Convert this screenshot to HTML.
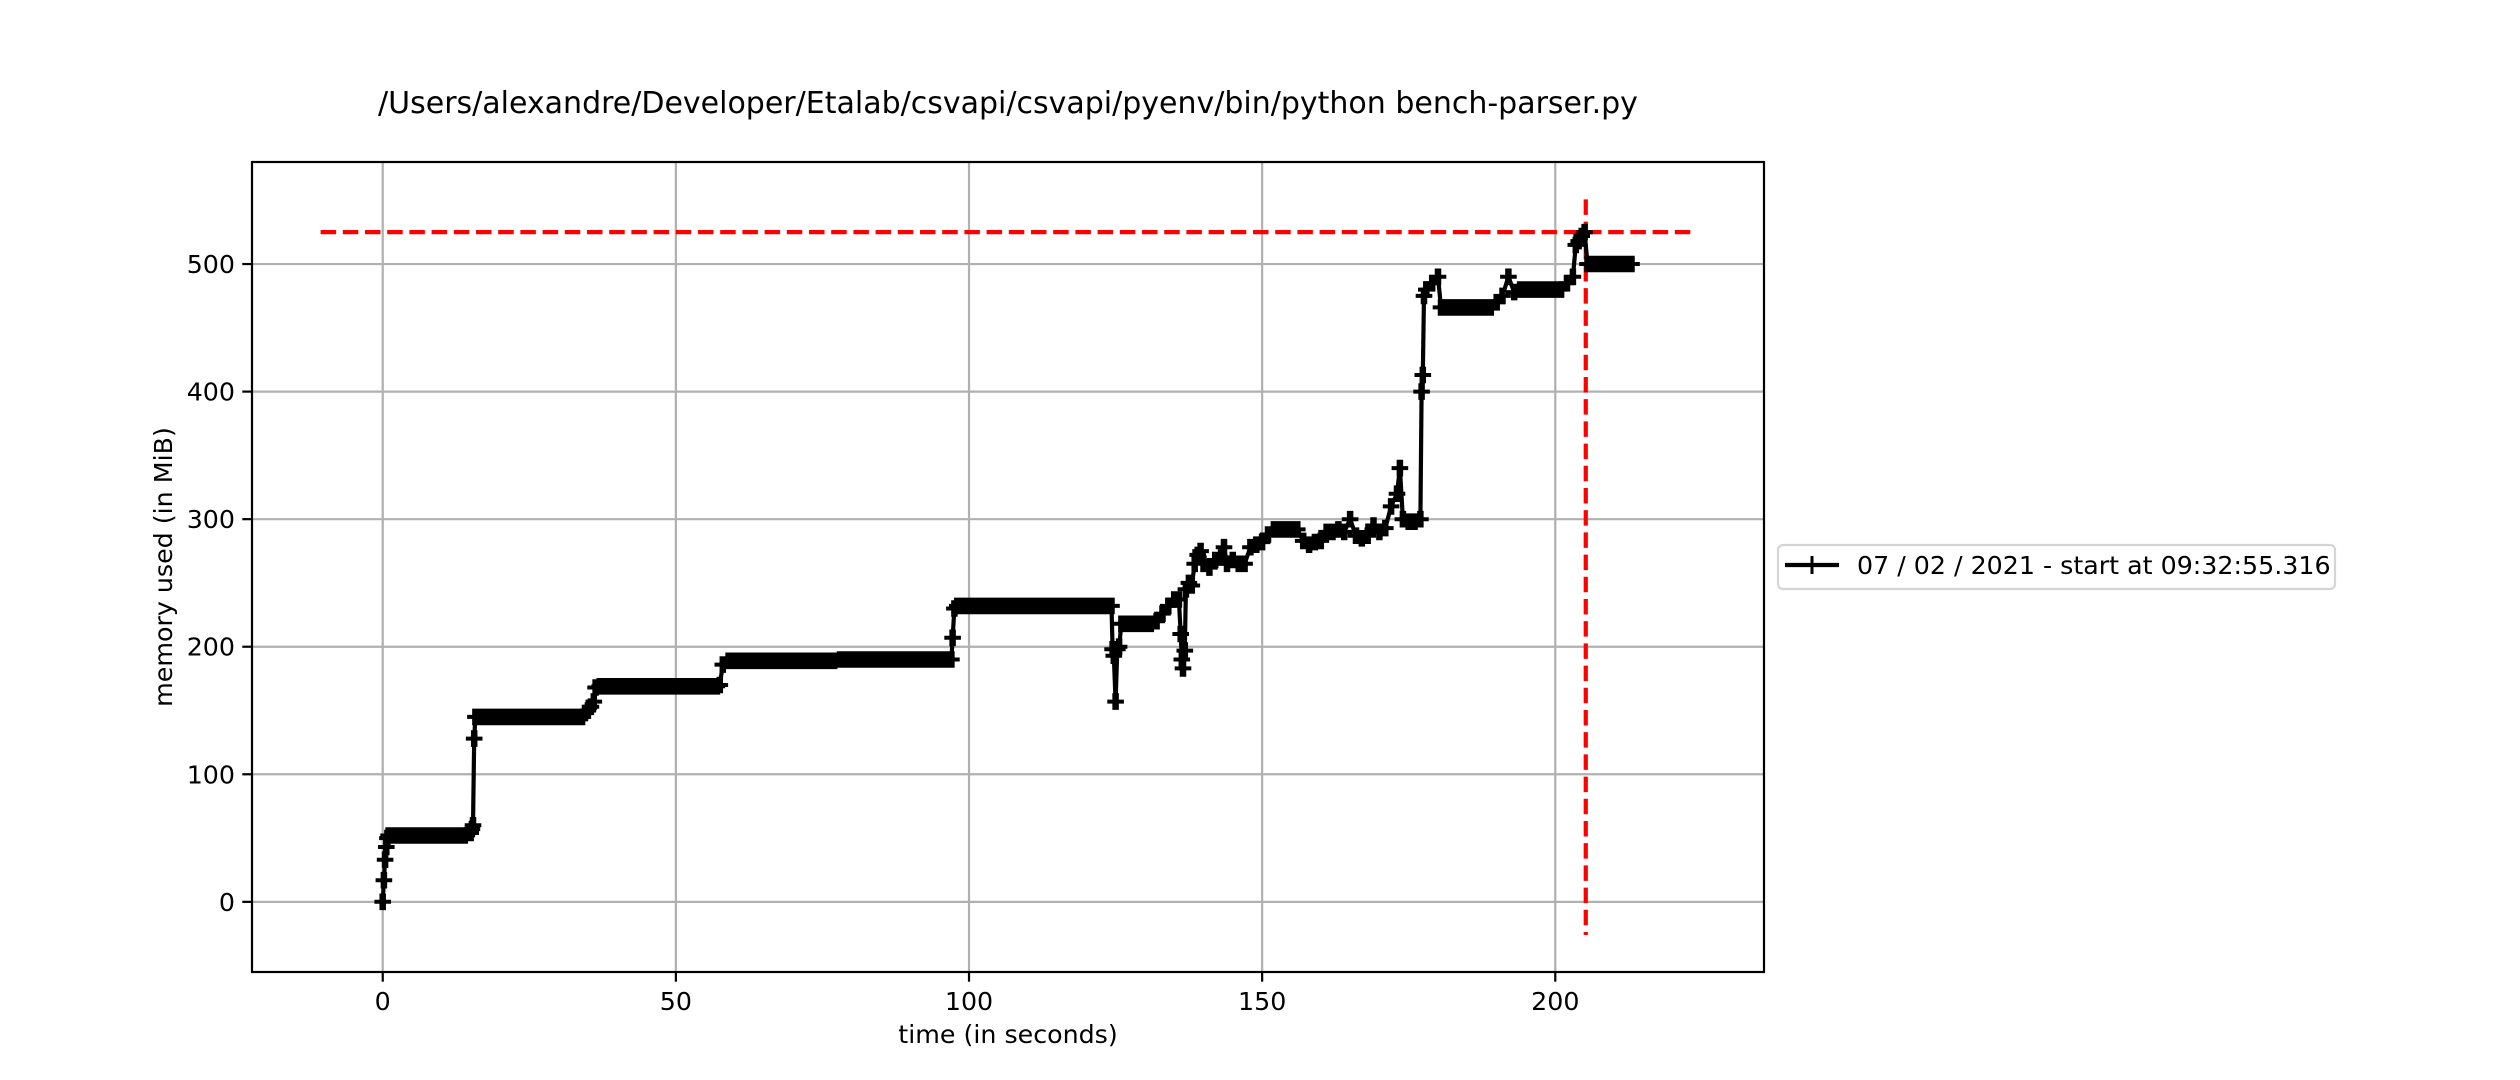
<!DOCTYPE html>
<html><head><meta charset="utf-8"><style>
html,body{margin:0;padding:0;background:#fff;}
svg{display:block;font-family:"DejaVu Sans","Liberation Sans",sans-serif;}
</style></head><body>
<svg id="chart" width="2520" height="1080" viewBox="0 0 2520 1080" xmlns="http://www.w3.org/2000/svg">
<rect width="2520" height="1080" fill="#fff"/>
<text x="1008" y="113" font-size="30" text-anchor="middle">/Users/alexandre/Developer/Etalab/csvapi/csvapi/pyenv/bin/python bench-parser.py</text>
<g id="grid"></g>
<g id="refs"></g>
<g id="series"></g>
<rect x="252" y="162" width="1512" height="810" fill="none" stroke="#000" stroke-width="2.2"/>
<g id="ticks"></g>
<text x="1008" y="1043" font-size="25.3" text-anchor="middle">time (in seconds)</text>
<text x="172" y="567" font-size="25.3" text-anchor="middle" transform="rotate(-90 172 567)">memory used (in MiB)</text>
<g>
<rect x="1778" y="545" width="557" height="44" rx="5" fill="#fff" stroke="#d5d5d5" stroke-width="2.2"/>
<line x1="1785" y1="565" x2="1839" y2="565" stroke="#000" stroke-width="4.2"/>
<line x1="1812" y1="556" x2="1812" y2="574" stroke="#000" stroke-width="3"/>
<text x="1857" y="574" font-size="25.3">07 / 02 / 2021 - start at 09:32:55.316</text>
</g>
</svg>
<script>
const xTicks = [0, 50, 100, 150, 200];
const yTicks = [0, 100, 200, 300, 400, 500];
const times = [0,0.2,0.4,0.6,0.8,1,2,3,4,5,6,7,8,9,10,11,12,13,14,15,15.2,15.4,15.6,15.8,
16,17,18,19,20,21,22,23,24,25,26,27,28,29,30,31,32,33,34,34.5,35,35.5,36,36.3,
37,38,39,40,41,42,43,44,45,46,47,48,49,50,51,52,53,54,55,56,57,57.5,58,
59,60,61,62,63,64,65,66,67,68,69,70,71,72,73,74,75,76,77,
78,79,80,81,82,83,84,85,86,87,88,89,90,91,92,93,94,95,96,97,97.2,97.5,
98,99,100,101,102,103,104,105,106,107,108,109,110,111,112,113,114,115,116,117,118,119,120,121,122,123,124,
124.3,124.5,124.7,125,125.3,125.6,126,127,128,129,130,131,132,133,134,135,135.8,136.1,136.3,136.5,136.8,137,137.5,
138,138.5,139,139.5,140,141,142,143,143.5,144,145,146,147,148,149,150,151,152,153,154,155,156,157,158,159,160,
161,162,163,164,165,166,167,168,169,170,171,172,173,173.5,174,175,176,177,177.2,177.4,177.6,178,179,180,180.5,
181,182,183,184,185,186,187,188,189,190,191,192,193,194,195,196,197,198,199,200,201,202,203,203.5,204,204.5,205,205.5,
206,207,208,209,210,211,212,213];
const memory = [0,17,33,43,50,52,52,52,52,52,52,52,52,52,52,52,52,52,52,54,57,60,128,145,
145,145,145,145,145,145,145,145,145,145,145,145,145,145,145,145,145,145,145,148,150,153,157,168,
169,169,169,169,169,169,169,169,169,169,169,169,169,169,169,169,169,169,169,169,169,170,186,
189,189,189,189,189,189,189,189,189,189,189,189,189,189,189,189,189,189,189,
190,190,190,190,190,190,190,190,190,190,190,190,190,190,190,190,190,190,190,190,207,230,
232,232,232,232,232,232,232,232,232,232,232,232,232,232,232,232,232,232,232,232,232,232,232,232,232,232,232,
232,198,193,157,198,200,218,218,218,218,218,218,220,226,232,237,237,210,190,183,197,245,250,
248,265,272,275,265,262,268,270,278,265,268,265,265,278,280,282,288,292,292,292,292,292,283,280,282,283,
290,290,292,290,300,287,285,287,295,290,293,310,320,340,300,298,298,300,400,413,475,480,485,490,466,
466,466,466,466,466,466,466,466,466,470,475,490,478,480,480,480,480,480,480,480,480,485,490,515,518,522,525,500,
500,500,500,500,500,500,500,500];
const refLevel = 525;
const refTime = 205.2;

const X0=252, X1=1764, Y0=162, Y1=972;
const xMin=-22.3, xMax=235.6, yMin=-55, yMax=580;
function sx(t){return X0+(t-xMin)/(xMax-xMin)*(X1-X0);}
function sy(v){return Y1-(v-yMin)/(yMax-yMin)*(Y1-Y0);}
const NS='http://www.w3.org/2000/svg';
function mk(tag,attrs,parent){const e=document.createElementNS(NS,tag);for(const k in attrs)e.setAttribute(k,attrs[k]);parent.appendChild(e);return e;}
const grid=document.getElementById('grid'), ticks=document.getElementById('ticks');
xTicks.forEach(t=>{
  const g=mk('line',{x1:sx(t),x2:sx(t),y1:Y0,y2:Y1,stroke:'#b0b0b0','stroke-width':2.2},grid);
  
  
  const tk=mk('line',{x1:sx(t),x2:sx(t),y1:Y1,y2:Y1+9.7,stroke:'#000','stroke-width':2.2},ticks);
  
  
  const lb=mk('text',{x:sx(t),y:1010,'font-size':25.3,'text-anchor':'middle'},ticks);
  lb.textContent=t;
  
  
});
yTicks.forEach(v=>{
  const g=mk('line',{x1:X0,x2:X1,y1:sy(v),y2:sy(v),stroke:'#b0b0b0','stroke-width':2.2},grid);
  
  
  const tk=mk('line',{x1:X0-9.7,x2:X0,y1:sy(v),y2:sy(v),stroke:'#000','stroke-width':2.2},ticks);
  
  
  const lb=mk('text',{x:X0-17,y:sy(v)+9,'font-size':25.3,'text-anchor':'end'},ticks);
  lb.textContent=v;
  
  
});
const refs=document.getElementById('refs');
const h=mk('line',{x1:sx(-10.6),x2:sx(223.7),y1:sy(refLevel),y2:sy(refLevel),stroke:'#f00','stroke-width':4.2,'stroke-dasharray':'15.5 6.7'},refs);


const v=mk('line',{x1:sx(refTime),x2:sx(refTime),y1:sy(550.7),y2:sy(-26),stroke:'#f00','stroke-width':4.2,'stroke-dasharray':'15.5 6.7'},refs);


const series=document.getElementById('series');
const pts=times.map((t,i)=>sx(t).toFixed(1)+','+sy(memory[i]).toFixed(1)).join(' ');
const pl=mk('polyline',{points:pts,fill:'none',stroke:'#000','stroke-width':4.2,'stroke-linejoin':'round'},series);


let dh='', dv='';
times.forEach((t,i)=>{const x=sx(t),y=sy(memory[i]);dh+=`M${(x-8.3).toFixed(1)},${y.toFixed(1)}h16.6`;dv+=`M${x.toFixed(1)},${(y-8.3).toFixed(1)}v16.6`;});
const mh=mk('path',{d:dh,fill:'none',stroke:'#000','stroke-width':4},series);


const mv=mk('path',{d:dv,fill:'none',stroke:'#000','stroke-width':6.5},series);


</script>
</body></html>
